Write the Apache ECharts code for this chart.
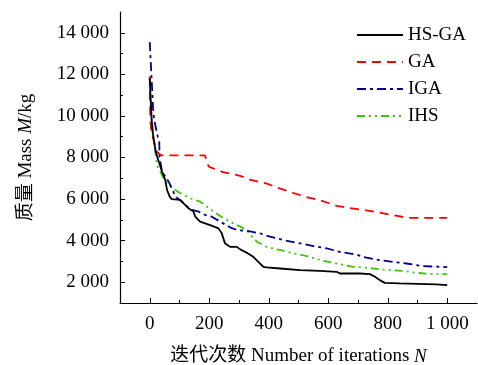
<!DOCTYPE html>
<html>
<head>
<meta charset="utf-8">
<script src="https://cdn.jsdelivr.net/npm/echarts@6/dist/echarts.min.js"></script>
<style>
html,body{margin:0;padding:0;background:#fff;}
#c{width:478px;height:365px;}
</style>
</head>
<body>
<div id="c"></div>
<script>
// ---- data ----
var seriesNames = ['HS-GA', 'GA', 'IGA', 'IHS'];
var hsga = [[0,11800],[3,10800],[6,9900],[10,9200],[15,8700],[20,8300],[28,7900],[35,7600],[41,7330],[52,6930],[58,6440],[67,6120],[74,5995],[102,5960],[113,5800],[130,5560],[147,5400],[153,5150],[169,4910],[203,4750],[231,4590],[242,4350],[253,3870],[270,3700],[293,3700],[304,3580],[326,3420],[348,3220],[365,2980],[382,2740],[393,2710],[438,2660],[505,2580],[572,2545],[628,2500],[639,2420],[706,2420],[740,2390],[757,2260],[773,2100],[790,1970],[840,1940],[963,1900],[968,1860],[1000,1860]];
var ga = [[0,11900],[1,10800],[2,9800],[5,9300],[10,9000],[18,8600],[25,8250],[40,8100],[186,8100],[193,7700],[200,7550],[246,7300],[304,7120],[337,6930],[394,6740],[431,6540],[481,6300],[527,6100],[579,5910],[629,5670],[673,5570],[717,5480],[763,5380],[813,5240],[867,5100],[1000,5100]];
var iga = [[0,13550],[4,12400],[8,11300],[11,10400],[14,9900],[18,9600],[27,9000],[32,8800],[33,8000],[38,7600],[41,7330],[63,6850],[74,6530],[86,6120],[108,5880],[125,5640],[142,5480],[164,5400],[186,5240],[209,5150],[237,4910],[270,4640],[293,4510],[337,4450],[371,4350],[404,4190],[449,4030],[505,3870],[550,3740],[595,3630],[639,3460],[695,3330],[717,3220],[773,3060],[818,2980],[863,2900],[919,2770],[1000,2730]];
var ihs = [[0,11900],[3,10900],[6,10000],[10,9300],[15,8700],[18,8380],[24,7650],[35,7330],[52,6850],[74,6530],[102,6290],[136,6040],[169,5880],[192,5640],[214,5400],[248,5080],[281,4830],[304,4680],[326,4510],[337,4300],[360,3950],[393,3700],[438,3550],[482,3390],[528,3260],[583,3030],[628,2900],[684,2740],[717,2710],[785,2610],[852,2545],[897,2450],[952,2390],[1000,2390]];
var xMajor = [0,200,400,600,800,1000];
var xMinor = [100,300,500,700,900];
var yMajor = [2000,4000,6000,8000,10000,12000,14000];
var yMinor = [3000,5000,7000,9000,11000,13000];

var FONT = "'Liberation Serif','Times New Roman','Noto Sans CJK SC',serif";
function fmt(v){
  var s = String(Math.round(v));
  if (s.length > 3) s = s.slice(0, s.length-3) + ' ' + s.slice(s.length-3);
  return s;
}
var chart = echarts.init(document.getElementById('c'), null, {renderer:'canvas'});
var axisLine = {show:true, onZero:false, lineStyle:{color:'#000', width:1.2}};
var option = {
  animation:false,
  backgroundColor:'#fff',
  grid:{left:120, right:1, top:12, bottom:62, containLabel:false, outerBoundsMode:'none'},
  legend:{
    orient:'vertical', left:351, top:20,
    itemWidth:46, itemHeight:14, itemGap:7,
    itemStyle:{color:'transparent', borderColor:'transparent', borderWidth:0, opacity:0},
    textStyle:{fontFamily:FONT, fontSize:19, color:'#000', lineHeight:20},
    data:seriesNames
  },
  xAxis:[{
    type:'value', min:-100, max:1100,
    axisLine:axisLine,
    axisTick:{show:true, inside:true, length:5, customValues:xMajor, lineStyle:{color:'#000'}},
    axisLabel:{show:true, customValues:xMajor, formatter:fmt, margin:12, fontFamily:FONT, fontSize:19, color:'#000'},
    splitLine:{show:false},
    name:'迭代次数 Number of iterations {i|N}',
    nameLocation:'middle', nameGap:44,
    nameTextStyle:{fontFamily:FONT, fontSize:19, color:'#000', rich:{i:{fontFamily:FONT, fontSize:19, fontStyle:'italic', color:'#000'}}}
  },{
    type:'value', min:-100, max:1100, position:'bottom', gridIndex:0,
    axisLine:{show:false, onZero:false},
    axisTick:{show:true, inside:true, length:3, customValues:xMinor, lineStyle:{color:'#000'}},
    axisLabel:{show:false},
    splitLine:{show:false}
  }],
  yAxis:[{
    type:'value', min:1000, max:15000,
    axisLine:axisLine,
    axisTick:{show:true, inside:true, length:5, customValues:yMajor, lineStyle:{color:'#000'}},
    axisLabel:{show:true, customValues:yMajor, formatter:fmt, margin:11, fontFamily:FONT, fontSize:19, color:'#000'},
    splitLine:{show:false},
    name:'质量 Mass {i|M}/kg',
    nameLocation:'middle', nameGap:84, nameRotate:90,
    nameTextStyle:{fontFamily:FONT, fontSize:19, color:'#000', rich:{i:{fontFamily:FONT, fontSize:19, fontStyle:'italic', color:'#000'}}}
  },{
    type:'value', min:1000, max:15000, position:'left', gridIndex:0,
    axisLine:{show:false, onZero:false},
    axisTick:{show:true, inside:true, length:3, customValues:yMinor, lineStyle:{color:'#000'}},
    axisLabel:{show:false},
    splitLine:{show:false}
  }],
  series:[
    {name:'HS-GA', type:'line', data:hsga, xAxisIndex:0, yAxisIndex:0, symbol:'none', z:5,
     lineStyle:{color:'#000000', width:1.8, type:'solid'}, itemStyle:{color:'#000000'}},
    {name:'GA', type:'line', data:ga, xAxisIndex:0, yAxisIndex:0, symbol:'none', z:4,
     lineStyle:{color:'#ff0000', width:1.8, type:[9,6]}, itemStyle:{color:'#ff0000'}},
    {name:'IGA', type:'line', data:iga, xAxisIndex:0, yAxisIndex:0, symbol:'none', z:3,
     lineStyle:{color:'#00008b', width:1.8, type:[9,4,3,4]}, itemStyle:{color:'#00008b'}},
    {name:'IHS', type:'line', data:ihs, xAxisIndex:0, yAxisIndex:0, symbol:'none', z:2,
     lineStyle:{color:'#33cc00', width:1.8, type:[8,4,2,4,2,4]}, itemStyle:{color:'#33cc00'}}
  ]
};
chart.setOption(option);
</script>
</body>
</html>
